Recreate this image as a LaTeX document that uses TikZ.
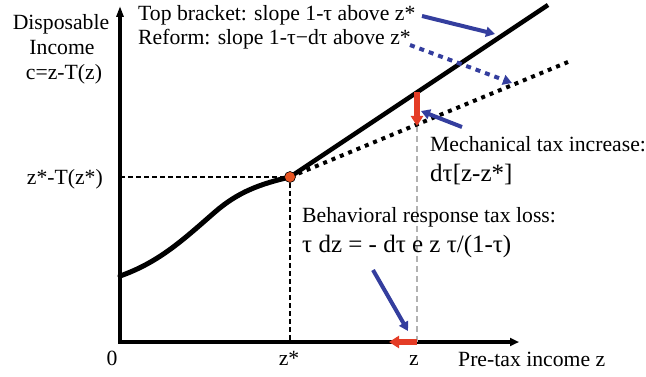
\documentclass[tikz,border=0pt]{standalone}
\usepackage{fontspec}
\setmainfont{Liberation Serif}
\usetikzlibrary{arrows.meta}
\definecolor{arrowblue}{RGB}{52,62,158}
\definecolor{tred}{RGB}{228,60,38}
\definecolor{dotorange}{RGB}{232,84,34}
\begin{document}
\begin{tikzpicture}[x=1pt,y=-1pt,
  lbl/.style={font=\fontsize{21.7}{25}\selectfont, inner sep=0pt},
  big/.style={font=\fontsize{25}{28}\selectfont, inner sep=0pt},
  axisline/.style={line width=3.5pt, line join=miter},
  guide/.style={line width=1.2pt, dash pattern=on 5pt off 3pt},
  grayguide/.style={line width=1.5pt, draw=black!30, dash pattern=on 6pt off 4pt},
  bluearrow/.style={line width=4pt, draw=arrowblue, -{Triangle[length=9pt,width=10pt,fill=arrowblue]}},
  redarrow/.style={line width=5.5pt, draw=tred, -{Triangle[length=10pt,width=12pt,fill=tred]}},
  thick curve/.style={line width=5pt, line cap=round}
]
\useasboundingbox (0,0) rectangle (646,377);
% axes
\coordinate (O) at (120,342);
\coordinate (ytop) at (120,6);
\coordinate (xend) at (519,342);
\draw[axisline, {Triangle[length=11pt,width=7pt]}-{Triangle[length=9pt,width=8pt]}] (ytop) -- (O) -- (xend);
% guides
\coordinate (zs) at (290,177);
\coordinate (zsx) at (290,342);
\coordinate (zsy) at (120,177);
\draw[guide] (zsy) -- (zs) -- (zsx);
\coordinate (mtop) at (417,92);
\coordinate (mbot) at (417,126);
\coordinate (zx) at (417,342);
\draw[grayguide] (mbot) -- (zx);
% curve and lines
\coordinate (c0) at (120,276);
\coordinate (c1) at (215,212);
\draw[thick curve] (c0) .. controls (160,262) and (185,238) .. (c1) .. controls (238,192) and (260,184) .. (zs);
\coordinate (topend) at (548,5);
\coordinate (refend) at (568,62);
\draw[line width=4.5pt] (zs) -- (topend);
\draw[line width=4pt, dash pattern=on 4pt off 5pt] (zs) -- (refend);
% red arrows
\draw[redarrow] (mtop) -- (mbot);
\coordinate (zleft) at (389,342);
\draw[redarrow] (zx) -- (zleft);
% dot
\node[circle, fill=dotorange, draw=black, line width=0.6pt, minimum size=11pt, inner sep=0pt] (zdot) at (zs) {};
% texts
\node[lbl, anchor=base west] (tb) at (138,21) {Top bracket: slope 1-τ above z*};
\node[lbl, anchor=base west] (rf) at (138,45) {Reform: slope 1-τ−dτ above z*};
\node[lbl, anchor=base] (yl1) at (61,30) {Disposable};
\node[lbl, anchor=base] (yl2) at (62,55) {Income};
\node[lbl, anchor=base] (yl3) at (64,80) {c=z-T(z)};
\node[lbl, anchor=base east] (zsl) at (103,185) {z*-T(z*)};
\node[lbl, anchor=base west] (mech) at (430,152) {Mechanical tax increase:};
\node[big, anchor=base west] (mechf) at (430,182) {dτ[z-z*]};
\node[lbl, anchor=base west] (beh) at (302,223) {Behavioral response tax loss:};
\node[big, anchor=base west] (behf) at (302,253) {τ dz = - dτ e z τ/(1-τ)};
\node[lbl, anchor=base] (zero) at (112,365) {0};
\node[lbl, anchor=base] (zsb) at (289,365) {z*};
\node[lbl, anchor=base] (zb) at (414,365) {z};
\node[lbl, anchor=base west] (xl) at (458,366) {Pre-tax income z};
% blue arrows
\coordinate (b1s) at (422,16); \coordinate (b1e) at (495,34);
\coordinate (b2s) at (410,45); \coordinate (b2e) at (512,83);
\coordinate (b3s) at (462,127); \coordinate (b3e) at (421,111);
\coordinate (b4s) at (373,270); \coordinate (b4e) at (408,331);
\draw[bluearrow] (b1s) -- (b1e);
\draw[bluearrow, dash pattern=on 5pt off 5pt] (b2s) -- (b2e);
\draw[bluearrow] (b3s) -- (b3e);
\draw[bluearrow] (b4s) -- (b4e);
\end{tikzpicture}
\end{document}
